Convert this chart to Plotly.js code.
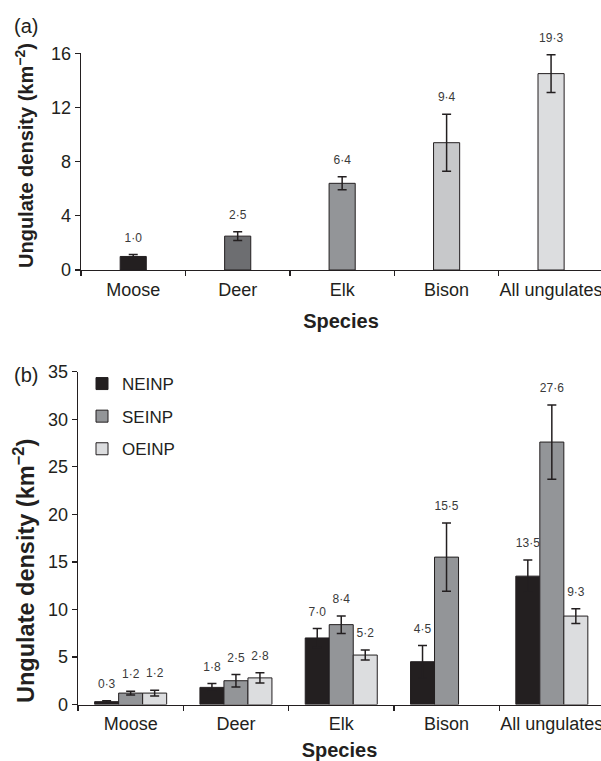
<!DOCTYPE html>
<html>
<head>
<meta charset="utf-8">
<script src="https://cdn.plot.ly/plotly-3.0.1.min.js"></script>
<style>html,body{margin:0;padding:0;background:#fff;}#chart{width:601px;height:761px;}</style>
</head>
<body>
<div id="chart"></div>
<script>
// ---- data ----
const categories = ['Moose', 'Deer', 'Elk', 'Bison', 'All ungulates'];

// panel (a)
const densityA = [1.0, 2.5, 6.4, 9.4, 14.5];
const errA = [0.15, 0.33, 0.48, 2.1, 1.4];
const labelsA = ['1·0', '2·5', '6·4', '9·4', '19·3'];
const colorsA = ['#231f20', '#6d6e71', '#939598', '#c7c8ca', '#dcdddf'];

// panel (b)
const seriesNames = ['NEINP', 'SEINP', 'OEINP'];
const neinp = [0.3, 1.8, 7.0, 4.5, 13.5];
const neinpErr = [0.1, 0.4, 1.0, 1.7, 1.7];
const neinpLabels = ['0·3', '1·8', '7·0', '4·5', '13·5'];
const seinp = [1.2, 2.5, 8.4, 15.5, 27.6];
const seinpErr = [0.2, 0.65, 0.92, 3.6, 3.9];
const seinpLabels = ['1·2', '2·5', '8·4', '15·5', '27·6'];
const oeinp = [1.2, 2.8, 5.2, null, 9.3];
const oeinpErr = [0.3, 0.55, 0.52, null, 0.77];
const oeinpLabels = ['1·2', '2·8', '5·2', null, '9·3'];
const colorsB = ['#231f20', '#939598', '#dcdddf'];

const yTitle = 'Ungulate density (km<sup>−2</sup>)';
const xTitle = 'Species';

// ---- styles ----
const FONT = 'Liberation Sans, Arial, Helvetica, sans-serif';
const INK = '#231f20';
const LABEL_INK = '#3a3a3a';

function tops(v, e) { return v.map((d, i) => d == null ? null : d + (e[i] || 0)); }

const traces = [];

// panel (a) bars
traces.push({
  type: 'bar', x: categories, y: densityA, xaxis: 'x', yaxis: 'y',
  width: 0.25, showlegend: false, hoverinfo: 'skip',
  marker: { color: colorsA, line: { color: INK, width: 1 } },
  error_y: { type: 'data', array: errA, color: INK, thickness: 1.5, width: 4.5 }
});
traces.push({
  type: 'scatter', mode: 'markers+text', x: categories, y: tops(densityA, errA),
  xaxis: 'x', yaxis: 'y', text: labelsA, textposition: 'top center',
  textfont: { family: FONT, size: 12, color: LABEL_INK },
  marker: { size: 14, opacity: 0 }, showlegend: false, hoverinfo: 'skip', cliponaxis: false
});

// panel (b) bars
const seriesVals = [neinp, seinp, oeinp];
const seriesErrs = [neinpErr, seinpErr, oeinpErr];
const seriesLabels = [neinpLabels, seinpLabels, oeinpLabels];
seriesNames.forEach((name, k) => {
  traces.push({
    type: 'bar', name: name, x: categories, y: seriesVals[k], xaxis: 'x2', yaxis: 'y2',
    offsetgroup: 'g' + k, legendgroup: 'g' + k, hoverinfo: 'skip',
    marker: { color: colorsB[k], line: { color: INK, width: 1 } },
    error_y: { type: 'data', array: seriesErrs[k], color: INK, thickness: 1.5, width: 4.5 }
  });
});
seriesNames.forEach((name, k) => {
  const ys = tops(seriesVals[k], seriesErrs[k]);
  const xs = categories.filter((c, i) => ys[i] != null);
  const ts = seriesLabels[k].filter((c, i) => ys[i] != null);
  traces.push({
    type: 'scatter', mode: 'markers+text', x: xs, y: ys.filter(v => v != null),
    xaxis: 'x2', yaxis: 'y2', offsetgroup: 'g' + k, text: ts, textposition: 'top center',
    textfont: { family: FONT, size: 12, color: LABEL_INK },
    marker: { size: 14, opacity: 0 }, showlegend: false, hoverinfo: 'skip', cliponaxis: false
  });
});

const xBase = {
  type: 'category', showline: true, linecolor: INK, linewidth: 1.3,
  ticks: 'outside', tickson: 'boundaries', ticklen: 5, tickwidth: 1.3, tickcolor: INK,
  tickfont: { family: FONT, size: 18, color: INK }, tickangle: 0, ticklabelstandoff: 3,
  showgrid: false, zeroline: false, fixedrange: true
};
const yBase = {
  showline: true, linecolor: INK, linewidth: 1.3, ticks: 'outside', ticklen: 5,
  tickwidth: 1.3, tickcolor: INK, tickfont: { family: FONT, size: 18, color: INK },
  showgrid: false, zeroline: false, fixedrange: true
};

const layout = {
  width: 601, height: 761,
  margin: { l: 0, r: 0, t: 0, b: 0 },
  paper_bgcolor: '#fff', plot_bgcolor: '#fff',
  font: { family: FONT, color: INK },
  barmode: 'group', bargap: 0.316, bargroupgap: 0,
  scattermode: 'group', scattergap: 0.316,
  xaxis: Object.assign({}, xBase, {
    domain: [81 / 601, 1], range: [-0.5, 4.478], anchor: 'y',
    title: { text: xTitle, font: { family: FONT, size: 20, weight: 'bold', color: INK }, standoff: 15 }
  }),
  yaxis: Object.assign({}, yBase, {
    domain: [(761 - 270) / 761, (761 - 53.3) / 761], range: [0, 16], tick0: 0, dtick: 4, anchor: 'x'
  }),
  xaxis2: Object.assign({}, xBase, {
    domain: [78 / 601, 1], range: [-0.5, 4.467], anchor: 'y2',
    title: { text: xTitle, font: { family: FONT, size: 20, weight: 'bold', color: INK }, standoff: 14 }
  }),
  yaxis2: Object.assign({}, yBase, {
    domain: [(761 - 704.5) / 761, (761 - 371.7) / 761], range: [0, 35], tick0: 0, dtick: 5, anchor: 'x2'
  }),
  legend: {
    x: 82 / 601, xanchor: 'left', y: (761 - 366) / 761, yanchor: 'top',
    font: { family: FONT, size: 17, color: INK }, bgcolor: 'rgba(0,0,0,0)',
    traceorder: 'grouped', tracegroupgap: 7.5
  },
  annotations: [
    { text: '(a)', xref: 'paper', yref: 'paper', x: 12 / 601, y: (761 - 13) / 761, xanchor: 'left', yanchor: 'top', showarrow: false, font: { family: FONT, size: 20, color: INK } },
    { text: '(b)', xref: 'paper', yref: 'paper', x: 12 / 601, y: (761 - 362) / 761, xanchor: 'left', yanchor: 'top', showarrow: false, font: { family: FONT, size: 20, color: INK } },
    { text: yTitle, xref: 'paper', yref: 'paper', x: 24 / 601, y: (761 - 156) / 761, xanchor: 'center', yanchor: 'middle', textangle: -90, showarrow: false, font: { family: FONT, size: 20, weight: 'bold', color: INK } },
    { text: yTitle, xref: 'paper', yref: 'paper', x: 24 / 601, y: (761 - 571) / 761, xanchor: 'center', yanchor: 'middle', textangle: -90, showarrow: false, font: { family: FONT, size: 23.5, weight: 'bold', color: INK } }
  ]
};

Plotly.newPlot('chart', traces, layout, { staticPlot: true, displayModeBar: false });
</script>
</body>
</html>
